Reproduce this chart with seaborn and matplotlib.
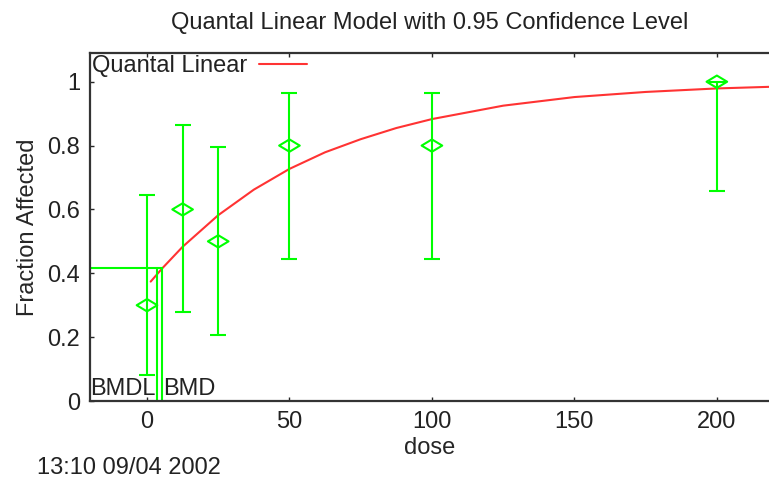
import numpy as np
import pandas as pd
import matplotlib
matplotlib.use('Agg')
import matplotlib.pyplot as plt
from matplotlib.path import Path
import seaborn as sns

# Observed data (dose, fraction affected, 95% limits)
dosis = [0, 12.5, 25, 50, 100, 200]
fraccion = [0.3, 0.6, 0.5, 0.8, 0.8, 1.0]
limite_inf = [0.082, 0.278, 0.207, 0.446, 0.446, 0.658]
limite_sup = [0.645, 0.865, 0.796, 0.965, 0.965, 1.0]

# Fitted quantal linear curve
curva_dosis = [1.3, 5.4, 12.5, 25, 37.5, 50, 62.5, 75, 87.5, 100, 125, 150, 175, 200, 218.3]
curva_frac = [0.374, 0.416, 0.483, 0.582, 0.662, 0.727, 0.779, 0.820, 0.855, 0.883,
              0.925, 0.952, 0.968, 0.979, 0.984]

# Benchmark dose
bmdl = 3.4
bmd = 5.4
bmr_nivel = 0.416

verde = '#00ff00'
rojo = '#ff3333'
fs = 17

sns.set_style('ticks')
plt.rcParams['font.family'] = ['Liberation Sans', 'DejaVu Sans']
plt.rcParams['text.color'] = '#222222'
plt.rcParams['xtick.labelcolor'] = '#222222'
plt.rcParams['ytick.labelcolor'] = '#222222'

fig = plt.figure(figsize=(7.69, 4.84), dpi=100)
ax = fig.add_axes([90 / 769, 1 - 401 / 484, 1 - 90 / 769, (401 - 53) / 484])

df_curva = pd.DataFrame({'dose': curva_dosis, 'frac': curva_frac})
sns.lineplot(data=df_curva, x='dose', y='frac', color=rojo, linewidth=1.5,
             label='Quantal Linear', ax=ax)

ax.errorbar(dosis, fraccion,
            yerr=[np.array(fraccion) - np.array(limite_inf),
                  np.array(limite_sup) - np.array(fraccion)],
            fmt='none', ecolor=verde, elinewidth=1.5, capsize=5.5, capthick=1.5)

diamante = Path([(-1, 0), (0, 0.6), (1, 0), (0, -0.6), (-1, 0)],
                [Path.MOVETO, Path.LINETO, Path.LINETO, Path.LINETO, Path.CLOSEPOLY])
df_obs = pd.DataFrame({'dose': dosis, 'frac': fraccion})
sns.scatterplot(data=df_obs, x='dose', y='frac', marker=diamante, s=220,
                facecolor='none', edgecolor=verde, linewidth=1.5, ax=ax, zorder=5)

# BMD / BMDL lines
ax.plot([-20, bmd], [bmr_nivel, bmr_nivel], color=verde, linewidth=1.5)
ax.plot([bmdl, bmdl], [0, bmr_nivel], color=verde, linewidth=1.5)
ax.plot([bmd, bmd], [0, bmr_nivel], color=verde, linewidth=1.5)
ax.text(bmdl - 0.4, 0.004, 'BMDL', ha='right', va='bottom', fontsize=fs)
ax.text(bmd + 0.4, 0.004, 'BMD', ha='left', va='bottom', fontsize=fs)

ax.set_xlim(-20, 218.3)
ax.set_ylim(0, 1.09)
ax.set_xticks([0, 50, 100, 150, 200])
ax.set_yticks([0, 0.2, 0.4, 0.6, 0.8, 1])
ax.set_yticklabels(['0', '0.2', '0.4', '0.6', '0.8', '1'])
ax.tick_params(direction='in', length=3, width=1, labelsize=fs, top=True, pad=7)
ax.spines['right'].set_visible(False)
for lado in ['left', 'bottom', 'top']:
    ax.spines[lado].set_linewidth(1.6)
    ax.spines[lado].set_color('#333333')

ax.set_xlabel('dose', fontsize=fs, labelpad=3)
ax.set_ylabel('Fraction Affected', fontsize=fs, labelpad=6)
ax.set_title('Quantal Linear Model with 0.95 Confidence Level', fontsize=fs, pad=17)

ax.legend(loc='upper left', frameon=False, markerfirst=False, fontsize=fs,
          handlelength=2.0, borderaxespad=0.1, borderpad=0.0, handletextpad=0.5)

fig.text(37 / 769, 1 - 468 / 484, '13:10 09/04 2002', fontsize=fs, va='center', ha='left')

fig.savefig('out.png', dpi=100)
